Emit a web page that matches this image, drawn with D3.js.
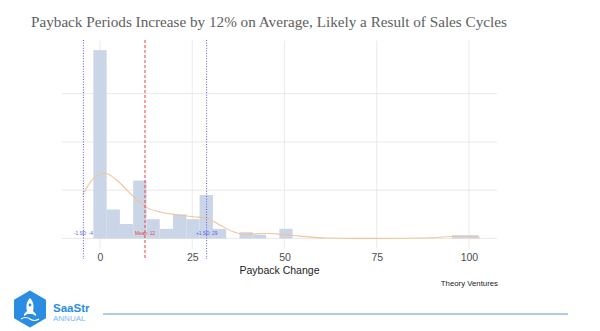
<!DOCTYPE html>
<html><head><meta charset="utf-8">
<script src="https://cdn.jsdelivr.net/npm/d3@7"></script>
<style>html,body{margin:0;padding:0;background:#fff;}svg{display:block;}</style>
</head><body>
<svg id="chart" width="600" height="331"></svg>
<script>
// ---- data ----
const title = "Payback Periods Increase by 12% on Average, Likely a Result of Sales Cycles";
const binStart = -1.8;
const binWidth = 3.6;
const binCounts = [39, 6, 3, 12, 4, 2, 5, 4, 9, 2, 0, 1.3, 0.8, 0, 2, 0, 0, 0, 0, 0, 0, 0, 0, 0, 0, 0, 0, 0.7, 0.7];
const densityX = [-4.7, -2.2, -0.5, 1.4, 4.5, 8.1, 12.2, 16.3, 20.8, 25.3, 28.9, 32.5, 36.1, 39.8, 44.3, 48.8, 54.2, 61.4, 70, 81.3, 89.4, 95.4, 100.3, 103];
const densityY = [9.0, 12.1, 13.1, 13.5, 12.1, 9.4, 6.6, 5.5, 4.9, 4.5, 4.2, 2.8, 1.4, 0.8, 1.1, 0.9, 0.5, 0.1, 0.03, 0.05, 0.15, 0.4, 0.4, 0.25];
const meanValue = 12.2;
const sdValue = 16.7;
const refLabels = ["-1 SD: -4", "Mean: 12", "+1 SD: 29"];
const xTicks = [0, 25, 50, 75, 100];
const yGrid = [0, 10, 20, 30];
const xDomain = [-10.3, 107.6];
const yDomain = [-2.05, 40.95];
const xLabel = "Payback Change";
const caption = "Theory Ventures";

const svg = d3.select("#chart");
const x = d3.scaleLinear().domain(xDomain).range([62, 497]);
const y = d3.scaleLinear().domain(yDomain).range([248.4, 40.7]);

// title
svg.append("text").attr("x", 31).attr("y", 27)
  .attr("font-family", "'Liberation Serif', 'Times New Roman', serif")
  .attr("font-size", 15.2).attr("fill", "#606060").text(title);

// gridlines
const g = svg.append("g");
g.selectAll(".hg").data(yGrid).join("line")
  .attr("x1", x.range()[0]).attr("x2", x.range()[1])
  .attr("y1", d => y(d)).attr("y2", d => y(d))
  .attr("stroke", "#e4e4e4").attr("stroke-width", 0.8);
g.selectAll(".vg").data(xTicks).join("line")
  .attr("x1", d => x(d)).attr("x2", d => x(d))
  .attr("y1", y.range()[1]).attr("y2", y.range()[0])
  .attr("stroke", "#e4e4e4").attr("stroke-width", 0.8);

// bars
const bins = binCounts.map((c, i) => ({x0: binStart + i * binWidth, x1: binStart + (i + 1) * binWidth, c}));
g.selectAll(".bar").data(bins.filter(b => b.c > 0)).join("rect")
  .attr("x", d => x(d.x0)).attr("width", d => x(d.x1) - x(d.x0))
  .attr("y", d => y(d.c)).attr("height", d => y(0) - y(d.c))
  .attr("fill", "#cad6e7");

// density
const dens = densityX.map((v, i) => [v, densityY[i]]);
g.append("path").datum(dens)
  .attr("d", d3.line().x(d => x(d[0])).y(d => y(d[1])).curve(d3.curveMonotoneX))
  .attr("fill", "none").attr("stroke", "#f2c497").attr("stroke-width", 1.1);

// reference lines
const refs = [
  {v: meanValue - sdValue, color: "#5b5be8", dash: "1,1.6", label: refLabels[0]},
  {v: meanValue, color: "#e8423f", dash: "3,2", label: refLabels[1]},
  {v: meanValue + sdValue, color: "#5b5be8", dash: "1,1.6", label: refLabels[2]}
];
g.selectAll(".ref").data(refs).join("line")
  .attr("x1", d => x(d.v)).attr("x2", d => x(d.v))
  .attr("y1", 40).attr("y2", 259)
  .attr("stroke", d => d.color).attr("stroke-width", 1).attr("stroke-dasharray", d => d.dash);
g.selectAll(".refl").data(refs).join("text")
  .attr("x", d => x(d.v)).attr("y", 235)
  .attr("text-anchor", "middle").attr("font-family", "'Liberation Sans', Arial, sans-serif")
  .attr("font-size", 4.8).attr("fill", d => d.color).text(d => d.label);

// x axis ticks
const xAxis = d3.axisBottom(x).tickValues(xTicks).tickSize(0).tickPadding(5);
const ax = svg.append("g").attr("transform", `translate(0,${y.range()[0]})`).call(xAxis);
ax.select(".domain").remove();
ax.selectAll("text").attr("font-family", "'Liberation Sans', Arial, sans-serif")
  .attr("font-size", 10.5).attr("fill", "#4d4d4d");

svg.append("text").attr("x", (x.range()[0] + x.range()[1]) / 2).attr("y", 274)
  .attr("text-anchor", "middle").attr("font-family", "'Liberation Sans', Arial, sans-serif")
  .attr("font-size", 10.5).attr("fill", "#222").text(xLabel);
svg.append("text").attr("x", 498).attr("y", 286)
  .attr("text-anchor", "end").attr("font-family", "'Liberation Sans', Arial, sans-serif")
  .attr("font-size", 7.8).attr("fill", "#222").text(caption);

// footer logo
const logo = svg.append("g");
const hx = 30, hy = 309, hw = 15, hh = 17.5;
logo.append("path")
  .attr("d", `M${hx},${hy-hh} L${hx+hw},${hy-hh/2} L${hx+hw},${hy+hh/2} L${hx},${hy+hh} L${hx-hw},${hy+hh/2} L${hx-hw},${hy-hh/2} Z`)
  .attr("fill", "#2a8de2").attr("stroke", "#2a8de2").attr("stroke-width", 2).attr("stroke-linejoin", "round");
// rocket
logo.append("path")
  .attr("d", `M${hx},${hy-11} C${hx+4},${hy-7} ${hx+4},${hy-2} ${hx+3},${hy+2} L${hx+6},${hy+5} L${hx+6},${hy+7} L${hx+2.5},${hy+5} L${hx-2.5},${hy+5} L${hx-6},${hy+7} L${hx-6},${hy+5} L${hx-3},${hy+2} C${hx-4},${hy-2} ${hx-4},${hy-7} ${hx},${hy-11} Z`)
  .attr("fill", "#fff");
logo.append("circle").attr("cx", hx).attr("cy", hy - 4).attr("r", 1.4).attr("fill", "#2a8de2");
logo.append("path")
  .attr("d", `M${hx-9},${hy+10} Q${hx-4.5},${hy+7} ${hx},${hy+10} Q${hx+4.5},${hy+13} ${hx+9},${hy+10}`)
  .attr("fill", "none").attr("stroke", "#fff").attr("stroke-width", 1.2);
logo.append("text").attr("x", 53).attr("y", 311.5)
  .attr("font-family", "'Liberation Sans', Arial, sans-serif").attr("font-weight", "bold")
  .attr("font-size", 11.5).attr("fill", "#2a8de2").text("SaaStr");
logo.append("text").attr("x", 53).attr("y", 320.5)
  .attr("font-family", "'Liberation Sans', Arial, sans-serif")
  .attr("font-size", 8).attr("fill", "#7ab8f0").text("ANNUAL");
svg.append("line").attr("x1", 103).attr("x2", 568).attr("y1", 314).attr("y2", 314)
  .attr("stroke", "#5b9bd8").attr("stroke-width", 1.2);
</script>
</body></html>
